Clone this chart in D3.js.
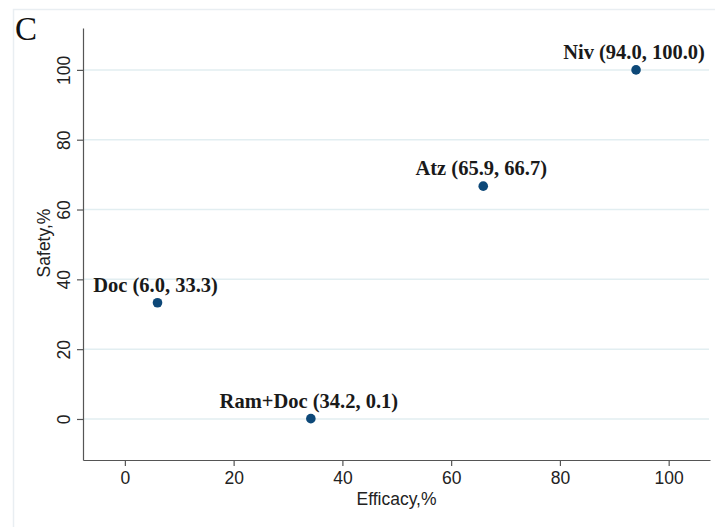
<!DOCTYPE html>
<html>
<head>
<meta charset="utf-8">
<script src="https://cdn.jsdelivr.net/npm/d3@7"></script>
<style>
  body { margin: 0; background: #fff; }
  .axis path, .axis line { stroke: #555; stroke-width: 1.2; }
  .axis text { font-family: "Liberation Sans", Arial, sans-serif; font-size: 17.5px; fill: #222; }
</style>
</head>
<body>
<div id="chart"></div>
<script>
// Data
var treatments = ["Doc", "Ram+Doc", "Atz", "Niv"];
var efficacy = [6.0, 34.2, 65.9, 94.0];
var safety = [33.3, 0.1, 66.7, 100.0];
var xTicks = [0, 20, 40, 60, 80, 100];
var yTicks = [0, 20, 40, 60, 80, 100];

var data = treatments.map(function(t, i) {
  return {name: t, x: efficacy[i], y: safety[i]};
});

// Set graph margins and dimensions
var totalW = 715, totalH = 527;
var margin = {top: 28, right: 5, bottom: 67, left: 83},
    width = totalW - margin.left - margin.right,
    height = totalH - margin.top - margin.bottom;

var x = d3.scaleLinear()
          .domain([-7.7, 107.6])
          .range([0, width]);

var y = d3.scaleLinear()
          .domain([-11.75, 112])
          .range([height, 0]);

var root = d3.select("#chart").append("svg")
    .attr("width", totalW)
    .attr("height", totalH);

// faint outer frame of the graph region
root.append("path")
    .attr("d", "M13.5," + totalH + "V9.5H" + totalW)
    .attr("fill", "none")
    .attr("stroke", "#e9eef2")
    .attr("stroke-width", 1.5);

// panel letter
root.append("text")
    .attr("x", 15)
    .attr("y", 40)
    .style("font-family", "'Liberation Serif', 'Times New Roman', serif")
    .style("font-size", "33px")
    .style("fill", "#111")
    .text("C");

var svg = root.append("g")
    .attr("transform", "translate(" + margin.left + "," + margin.top + ")");

// horizontal grid lines
svg.selectAll(".grid")
    .data(yTicks)
  .enter().append("line")
    .attr("class", "grid")
    .attr("x1", 0)
    .attr("x2", width - 1)
    .attr("y1", function(d) { return y(d); })
    .attr("y2", function(d) { return y(d); })
    .attr("stroke", "#e2eef1")
    .attr("stroke-width", 1.5);

// x axis
var xAxis = svg.append("g")
    .attr("class", "axis")
    .attr("transform", "translate(0," + height + ")")
    .call(d3.axisBottom(x).tickValues(xTicks).tickSize(6).tickPadding(5).tickSizeOuter(0));
xAxis.selectAll("text").attr("dy", "0.75em");

// y axis
var yAxis = svg.append("g")
    .attr("class", "axis")
    .call(d3.axisLeft(y).tickValues(yTicks).tickSize(6).tickSizeOuter(0));
yAxis.selectAll("text")
    .attr("x", null)
    .attr("dy", null)
    .attr("transform", "translate(-13,0) rotate(-90)")
    .style("text-anchor", "middle");

// axis titles
svg.append("text")
    .attr("x", width / 2)
    .attr("y", height + 45)
    .style("text-anchor", "middle")
    .style("font-family", "'Liberation Sans', Arial, sans-serif")
    .style("font-size", "17.5px")
    .style("fill", "#222")
    .text("Efficacy,%");

svg.append("text")
    .attr("transform", "translate(-33," + (height / 2 - 1) + ") rotate(-90)")
    .style("text-anchor", "middle")
    .style("font-family", "'Liberation Sans', Arial, sans-serif")
    .style("font-size", "17.5px")
    .style("fill", "#222")
    .text("Safety,%");

// points
svg.selectAll(".dot")
    .data(data)
  .enter().append("circle")
    .attr("class", "dot")
    .attr("cx", function(d) { return x(d.x); })
    .attr("cy", function(d) { return y(d.y); })
    .attr("r", 4.8)
    .attr("fill", "#0d4878");

// point labels
var f = d3.format(".1f");
svg.selectAll(".lbl")
    .data(data)
  .enter().append("text")
    .attr("class", "lbl")
    .attr("x", function(d) { return x(d.x) - 2; })
    .attr("y", function(d) { return y(d.y) - 11; })
    .style("text-anchor", "middle")
    .style("font-family", "'Liberation Serif', 'Times New Roman', serif")
    .style("font-weight", "bold")
    .style("font-size", "20.5px")
    .style("fill", "#1a1a1a")
    .text(function(d) { return d.name + " (" + f(d.x) + ", " + f(d.y) + ")"; });
</script>
</body>
</html>
